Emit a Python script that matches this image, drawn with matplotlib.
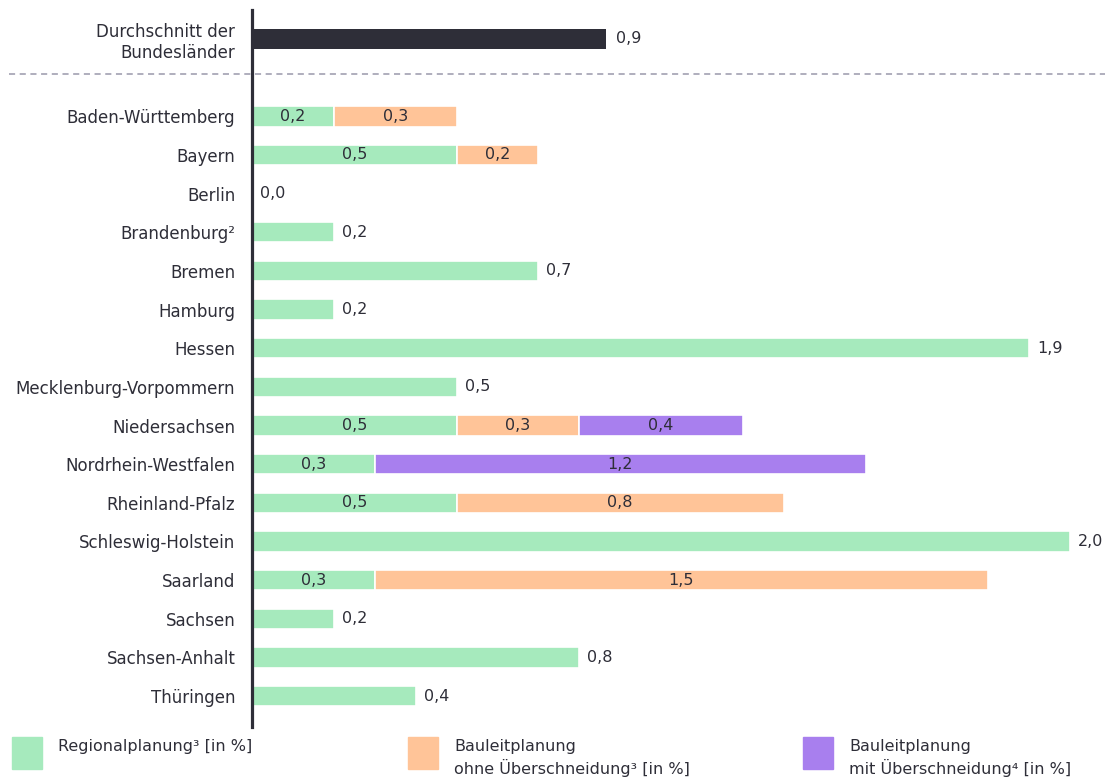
import matplotlib.pyplot as plt
from matplotlib.patches import Rectangle

# data (share of area in %)
average_label = "Durchschnitt der\nBundesländer"
average_value = 0.865

states = [
    "Baden-Württemberg", "Bayern", "Berlin", "Brandenburg²", "Bremen", "Hamburg",
    "Hessen", "Mecklenburg-Vorpommern", "Niedersachsen", "Nordrhein-Westfalen",
    "Rheinland-Pfalz", "Schleswig-Holstein", "Saarland", "Sachsen", "Sachsen-Anhalt",
    "Thüringen",
]
regional = [0.2, 0.5, 0.0, 0.2, 0.7, 0.2, 1.9, 0.5, 0.5, 0.3, 0.5, 2.0, 0.3, 0.2, 0.8, 0.4]
bauleit_ohne = [0.3, 0.2, 0.0, 0.0, 0.0, 0.0, 0.0, 0.0, 0.3, 0.0, 0.8, 0.0, 1.5, 0.0, 0.0, 0.0]
bauleit_mit = [0.0, 0.0, 0.0, 0.0, 0.0, 0.0, 0.0, 0.0, 0.4, 1.2, 0.0, 0.0, 0.0, 0.0, 0.0, 0.0]

series_labels = [
    "Regionalplanung³ [in %]",
    "Bauleitplanung\nohne Überschneidung³ [in %]",
    "Bauleitplanung\nmit Überschneidung⁴ [in %]",
]
colors = ["#a6eabd", "#ffc498", "#a87fee"]
dark = "#2e2e38"

plt.rcParams["font.family"] = ["DejaVu Sans"]


def fmt(v):
    return f"{v:.1f}".replace(".", ",")


fig = plt.figure(figsize=(11.05, 7.77), dpi=100)
ax = fig.add_axes([252 / 1105, 50 / 777, 1 - 252 / 1105, 717 / 777])

bar_h = 0.53
ax.barh(0, average_value, height=bar_h, color=dark)
ax.text(average_value + 0.025, 0, fmt(average_value), va="center", ha="left",
        fontsize=11.5, color=dark)

ypos = list(range(2, 2 + len(states)))
series = [regional, bauleit_ohne, bauleit_mit]
for i, y in enumerate(ypos):
    vals = [s[i] for s in series]
    n_seg = sum(v > 0 for v in vals)
    left = 0.0
    for v, c in zip(vals, colors):
        if v <= 0:
            continue
        ax.barh(y, v, left=left, height=bar_h, color=c, edgecolor="white", linewidth=1.2)
        if n_seg > 1:
            ax.text(left + v / 2, y, fmt(v), va="center", ha="center", fontsize=11.5, color=dark)
        left += v
    if n_seg <= 1:
        ax.text(left + 0.02, y, fmt(left), va="center", ha="left", fontsize=11.5, color=dark)

ax.set_yticks([0] + ypos)
ax.set_yticklabels([average_label] + states, fontsize=12, color=dark)
ax.tick_params(axis="y", length=0, pad=12)
ax.set_xticks([])
ax.set_xlim(0, 853 / 409)
ax.set_ylim(17.8, -0.75)
for side in ["top", "right", "bottom"]:
    ax.spines[side].set_visible(False)
ax.spines["left"].set_color(dark)
ax.spines["left"].set_linewidth(2.3)

ax.axhline(0.9, xmin=-0.285, xmax=1, color="#9a98ab", linewidth=1.1,
           linestyle=(0, (4, 3)), clip_on=False)

# legend
legend_x = [12, 408, 803]
for x, c, lab in zip(legend_x, colors, series_labels):
    fig.add_artist(Rectangle((x / 1105, 1 - 769 / 777), 30 / 1105, 32 / 777,
                             transform=fig.transFigure, color=c))
    fig.text((x + 46) / 1105, 1 - 739 / 777, lab, ha="left", va="top",
             fontsize=11.5, color=dark, linespacing=1.35)

fig.savefig("out.png", dpi=100)
